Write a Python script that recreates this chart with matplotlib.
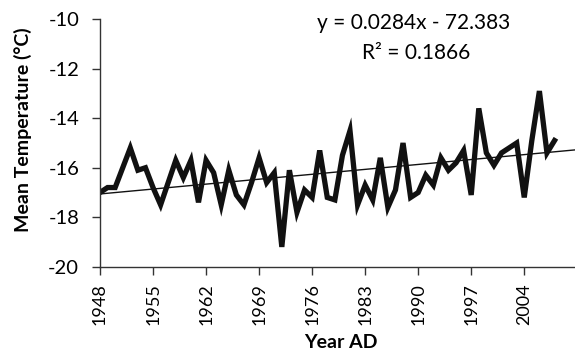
import matplotlib
matplotlib.use("Agg")
import matplotlib.pyplot as plt

plt.rcParams['font.family'] = ['Lato', 'DejaVu Sans']
plt.rcParams['axes.unicode_minus'] = False

# mean annual temperature
years = list(range(1948, 2009))
temps = [-17.0, -16.8, -16.8, -16.0, -15.2, -16.1, -16.0, -16.8, -17.5, -16.6,
         -15.7, -16.4, -15.7, -17.4, -15.7, -16.2, -17.5, -16.1, -17.1, -17.5,
         -16.6, -15.6, -16.6, -16.2, -19.2, -16.1, -17.8, -16.9, -17.2, -15.3,
         -17.2, -17.3, -15.5, -14.5, -17.5, -16.7, -17.3, -15.6, -17.6, -16.9,
         -15.0, -17.2, -17.0, -16.3, -16.7, -15.6, -16.1, -15.8, -15.3, -17.1,
         -13.6, -15.4, -15.9, -15.4, -15.2, -15.0, -17.2, -14.9, -12.9, -15.4,
         -14.9]

slope = 0.0284
intercept = -72.383
r2 = 0.1866

xticks = list(range(1948, 2005, 7))
yticks = [-20, -18, -16, -14, -12, -10]

W, H = 575, 353
fig = plt.figure(figsize=(W / 100, H / 100), dpi=100)
ax = fig.add_axes([100 / W, 1 - 266.7 / H, 475 / W, (266.7 - 19.3) / H])

ax.plot(years, temps, color='#111111', lw=3.8, solid_joinstyle='miter')
x0, x1 = 1948, 2010.7
ax.plot([x0, x1], [slope * x0 + intercept, slope * x1 + intercept], color='#111111', lw=1.0)

ax.set_xlim(x0, x1)
ax.set_ylim(-20, -10)
ax.set_xticks(xticks)
ax.set_xticklabels([str(t) for t in xticks], rotation=90)
ax.set_yticks(yticks)

for s in ['top', 'right']:
    ax.spines[s].set_visible(False)
for s in ['left', 'bottom']:
    ax.spines[s].set_color('#333333')
    ax.spines[s].set_linewidth(1.0)
ax.tick_params(axis='both', direction='out', length=6, width=1.0, color='#333333')
ax.tick_params(axis='y', pad=9, labelsize=14.5)
ax.tick_params(axis='x', pad=6, labelsize=13)

fig.text(23 / W, 1 - 130 / H, 'Mean Temperature (°C)', rotation=90, ha='center', va='center',
         fontsize=14, fontweight='bold')
fig.text(341 / W, 1 - 342 / H, 'Year AD', ha='center', va='center', fontsize=14, fontweight='bold')

fig.text(414 / W, 1 - 23 / H, 'y = 0.0284x - 72.383', ha='center', va='center', fontsize=15)
fig.text(416 / W, 1 - 53 / H, 'R² = 0.1866', ha='center', va='center', fontsize=15)

fig.savefig('out.png', dpi=100)
